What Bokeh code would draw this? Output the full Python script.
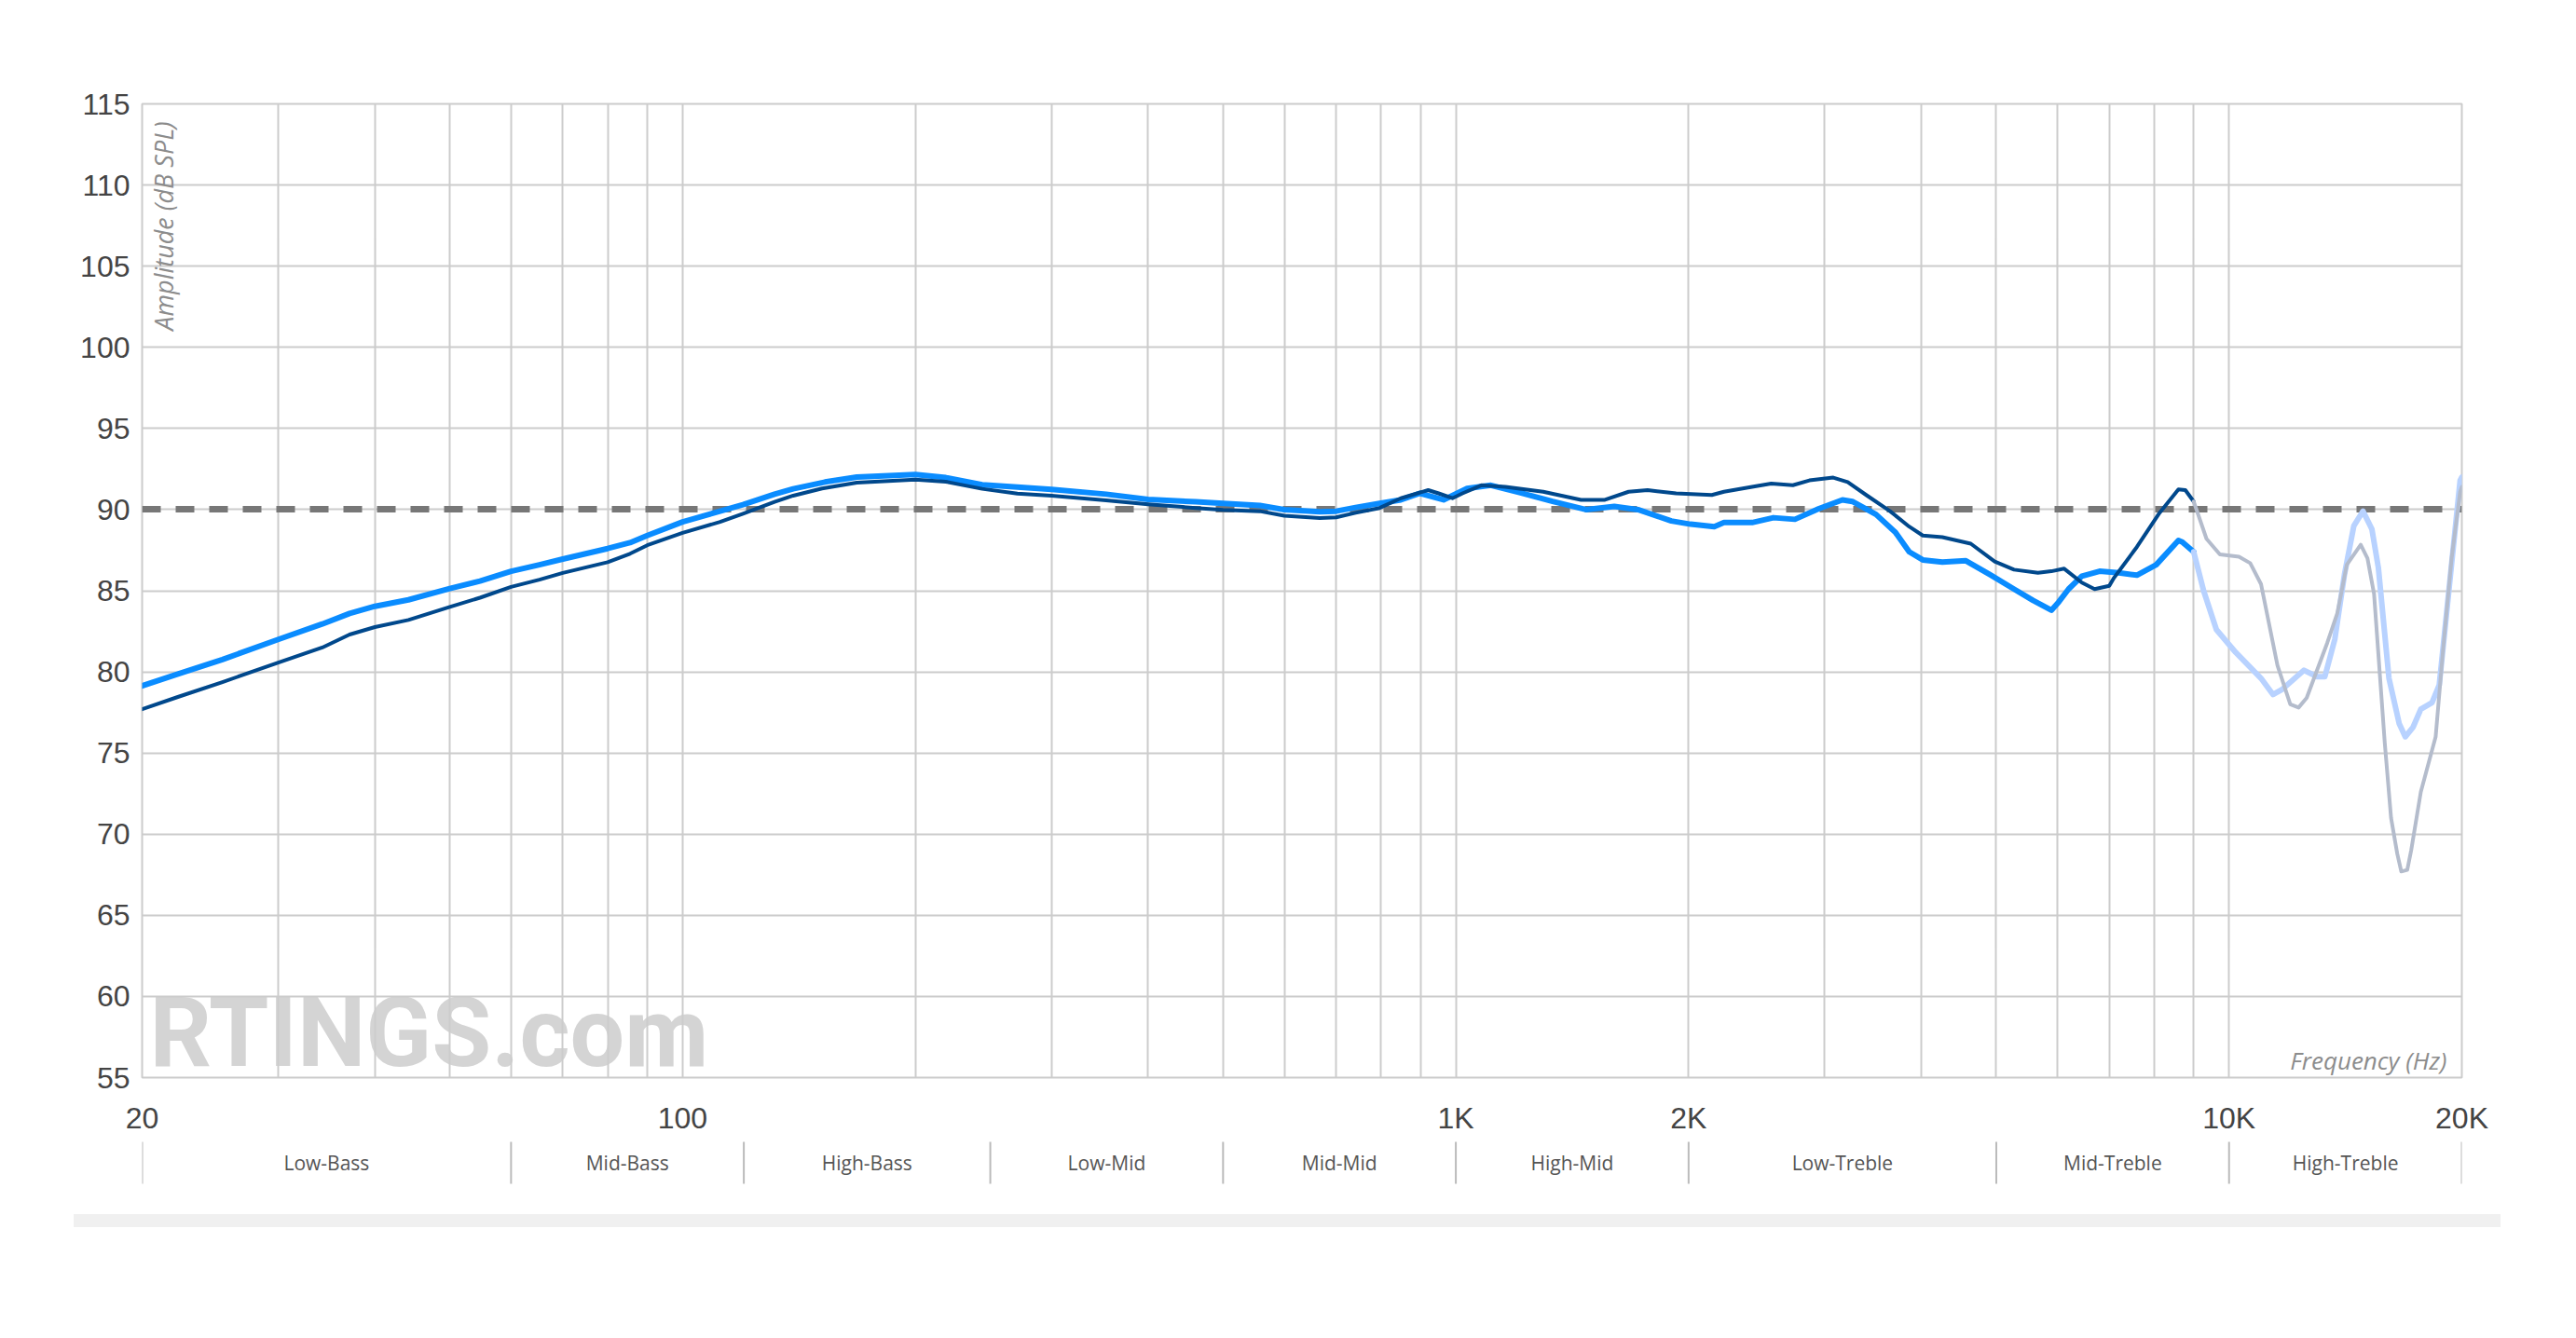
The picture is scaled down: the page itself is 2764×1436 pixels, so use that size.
import math
from bokeh.plotting import figure
from bokeh.models import FixedTicker, Range1d, Label, Div
from bokeh.layouts import column
from bokeh.core.properties import value
from bokeh.embed import file_html
from bokeh.resources import INLINE

# ---------------- data ----------------
freq_thick = [20, 22.2, 25.4, 30, 34.2, 37.1, 40, 44.2, 50, 54.7, 60, 65.3, 70, 80, 85.5, 90, 100,
              111.8, 119.7, 131.5, 139, 152.8, 168, 200, 219, 244, 271, 300, 353, 400, 461, 500,
              558, 600, 667, 700, 742, 797, 849, 898, 964, 1034, 1110, 1209, 1334, 1473, 1603, 1720,
              1900, 2012, 2159, 2222, 2416, 2575, 2745, 2946, 3162, 3257, 3495, 3702, 3858, 4017,
              4258, 4567, 4905, 5271, 5578, 5891, 6020, 6200, 6450, 6800, 7200, 7600, 8050, 8600,
              8700, 9000]
spl_thick = [79.14, 79.85, 80.76, 82.0, 82.95, 83.6, 84.04, 84.44, 85.14, 85.6, 86.2, 86.6, 86.95,
             87.6, 87.96, 88.4, 89.24, 89.9, 90.3, 90.95, 91.28, 91.7, 92.0, 92.16, 91.97, 91.53,
             91.39, 91.24, 90.95, 90.63, 90.48, 90.38, 90.25, 90.0, 89.87, 89.9, 90.13, 90.38,
             90.6, 91.0, 90.6, 91.3, 91.5, 91.05, 90.5, 90.0, 90.2, 90.0, 89.3, 89.1, 88.95, 89.2,
             89.2, 89.5, 89.4, 90.05, 90.6, 90.5, 89.7, 88.6, 87.4, 86.9, 86.76, 86.85, 86.0,
             85.1, 84.4, 83.8, 84.3, 85.1, 85.9, 86.2, 86.1, 85.96, 86.6, 88.1, 88.0, 87.4]

freq_thick_hi = [9000, 9270, 9630, 10200, 11000, 11400, 11700, 12500, 13000, 13300, 13700, 14100,
                 14500, 14900, 15300, 15600, 16100, 16600, 16900, 17300, 17700, 18300, 18700,
                 19300, 19900, 20000]
spl_thick_hi = [87.4, 85.0, 82.6, 81.2, 79.6, 78.6, 78.9, 80.1, 79.7, 79.7, 82.0, 86.0, 89.0, 89.9,
                88.8, 86.4, 79.6, 76.8, 76.0, 76.6, 77.7, 78.1, 79.2, 85.6, 91.8, 92.0]

freq_thin = [20, 22.2, 25.4, 30, 34.2, 37.1, 40, 44.2, 50, 54.7, 60, 65.3, 70, 80, 85.5, 90, 100,
             111.8, 119.7, 131.5, 139, 151.5, 168, 200, 219, 244, 271, 300, 353, 400, 461, 500,
             558, 600, 667, 700, 742, 797, 849, 921, 950, 990, 1020, 1079, 1159, 1297, 1452, 1559,
             1673, 1770, 1927, 2143, 2222, 2416, 2558, 2728, 2866, 3077, 3212, 3394, 3644, 3858,
             4017, 4258, 4634, 4976, 5271, 5660, 5891, 6120, 6450, 6700, 7000, 7100, 7600, 8130,
             8600, 8780, 9000]
spl_thin = [77.7, 78.44, 79.37, 80.57, 81.5, 82.3, 82.76, 83.2, 84.0, 84.57, 85.24, 85.68, 86.1,
            86.76, 87.28, 87.8, 88.57, 89.24, 89.75, 90.48, 90.86, 91.3, 91.66, 91.85, 91.72,
            91.28, 90.99, 90.86, 90.57, 90.32, 90.1, 89.98, 89.9, 89.62, 89.48, 89.52, 89.8,
            90.1, 90.7, 91.2, 91.0, 90.7, 91.0, 91.5, 91.4, 91.1, 90.6, 90.6, 91.1, 91.2, 91.0,
            90.9, 91.1, 91.4, 91.6, 91.5, 91.8, 91.97, 91.7, 90.9, 89.9, 88.95, 88.4, 88.3, 87.9,
            86.8, 86.3, 86.1, 86.2, 86.36, 85.5, 85.1, 85.3, 85.8, 87.7, 89.8, 91.24, 91.2, 90.5]

freq_thin_hi = [9000, 9350, 9730, 10300, 10650, 11000, 11550, 12000, 12300, 12600, 13400, 13800,
                14200, 14800, 15100, 15400, 15900, 16200, 16500, 16700, 17000, 17200, 17700,
                18500, 18900, 19400, 19900, 20000]
spl_thin_hi = [90.5, 88.2, 87.24, 87.1, 86.7, 85.4, 80.4, 78.0, 77.8, 78.4, 81.8, 83.6, 86.6,
               87.84, 87.0, 84.8, 75.6, 71.0, 68.8, 67.7, 67.8, 69.0, 72.6, 76.0, 81.2, 87.0,
               91.1, 91.4]

target_level = [90]

x_tick_values = [20, 100, 1000, 2000, 10000, 20000]
x_tick_labels = ["20", "100", "1K", "2K", "10K", "20K"]
x_grid_values = [20, 30, 40, 50, 60, 70, 80, 90, 100, 200, 300, 400, 500, 600, 700, 800, 900,
                 1000, 2000, 3000, 4000, 5000, 6000, 7000, 8000, 9000, 10000, 20000]
y_ticks = list(range(55, 116, 5))

band_edges = [20, 60, 120, 250, 500, 1000, 2000, 5000, 10000, 20000]
band_names = ["Low-Bass", "Mid-Bass", "High-Bass", "Low-Mid", "Mid-Mid", "High-Mid",
              "Low-Treble", "Mid-Treble", "High-Treble"]

# ---------------- style ----------------
W = 2764
GRID = "#cccccc"
C_BRIGHT = "#0a8cff"
C_DARK = "#00488c"
C_LIGHT = "#b8d2ff"
C_GRAY = "#b4bccc"
TICK_FONT = "Liberation Sans"
TEXT_FONT = "Open Sans"

x_range = Range1d(20, 20000)

p = figure(width=W, height=1220, x_axis_type="log", x_range=x_range, y_range=Range1d(55, 115),
           output_backend="svg", toolbar_location=None,
           min_border_left=152, min_border_right=123, min_border_top=111, min_border_bottom=60)
p.background_fill_color = "white"
p.border_fill_color = "white"
p.outline_line_color = GRID
p.outline_line_width = 2

p.xaxis.ticker = FixedTicker(ticks=x_tick_values)
p.xaxis.major_label_overrides = {v: s for v, s in zip(x_tick_values, x_tick_labels)}
p.yaxis.ticker = FixedTicker(ticks=y_ticks)
for ax in (p.xaxis[0], p.yaxis[0]):
    ax.axis_line_color = None
    ax.major_tick_line_color = None
    ax.minor_tick_line_color = None
    ax.major_label_text_font = TICK_FONT
    ax.major_label_text_font_size = "32px"
    ax.major_label_text_color = "#444444"
p.xaxis.major_label_standoff = 19
p.yaxis.major_label_standoff = 7

p.xgrid.ticker = FixedTicker(ticks=x_grid_values)
p.ygrid.ticker = FixedTicker(ticks=y_ticks)
p.xgrid.grid_line_color = GRID
p.ygrid.grid_line_color = GRID
p.xgrid.grid_line_width = 2
p.ygrid.grid_line_width = 2

# watermark (under the grid)
p.text(x=[20.45], y=[57.75], text=["RTINGS.com"], text_font=value("Roboto"),
       text_font_style="bold", text_font_size="104px", text_color="#d4d4d4",
       text_baseline="middle", text_align="left", level="image")

# target dashed line
p.hspan(y=target_level, line_color="#777777", line_width=7, line_dash="20 16")

# curves
p.line(freq_thick, spl_thick, line_color=C_BRIGHT, line_width=6, line_join="round", line_cap="round")
p.line(freq_thick_hi, spl_thick_hi, line_color=C_LIGHT, line_width=6, line_join="round", line_cap="round")
p.line(freq_thin, spl_thin, line_color=C_DARK, line_width=4, line_join="round", line_cap="round")
p.line(freq_thin_hi, spl_thin_hi, line_color=C_GRAY, line_width=4, line_join="round", line_cap="round")

p.add_layout(Label(x=21.31, y=101.04, text="Amplitude (dB SPL)", angle=math.pi / 2,
                   text_font=TEXT_FONT, text_font_style="italic", text_font_size="27px",
                   text_color="#8c8c8c", text_align="left", text_baseline="middle"))
p.add_layout(Label(x=19124, y=56.09, text="Frequency (Hz)",
                   text_font=TEXT_FONT, text_font_style="italic", text_font_size="26px",
                   text_color="#8c8c8c", text_align="right", text_baseline="middle"))

# ---------------- band strip ----------------
b = figure(width=W, height=80, x_axis_type="log", x_range=x_range, y_range=Range1d(80, 0),
           output_backend="svg", toolbar_location=None,
           x_axis_location=None, y_axis_location=None,
           min_border_left=152, min_border_right=123, min_border_top=0, min_border_bottom=0)
b.outline_line_color = None
b.grid.visible = False
b.segment(x0=band_edges, x1=band_edges, y0=[5] * len(band_edges), y1=[50] * len(band_edges),
          line_color="#bbbbbb", line_width=2)
centers = [math.sqrt(a * c) for a, c in zip(band_edges[:-1], band_edges[1:])]
b.text(x=centers, y=[27] * len(centers), text=band_names, text_font=value(TEXT_FONT),
       text_font_size="21px", text_color="#555555", text_align="center", text_baseline="middle")

# ---------------- grey bar ----------------
bar = Div(text='<div style="margin-left:79px;margin-top:3px;width:2604px;height:14px;'
               'background:#f0f0f0"></div>', width=W, height=136, margin=0)

layout = column(p, b, bar, spacing=0)
open("out.html", "w").write(file_html(layout, INLINE))
